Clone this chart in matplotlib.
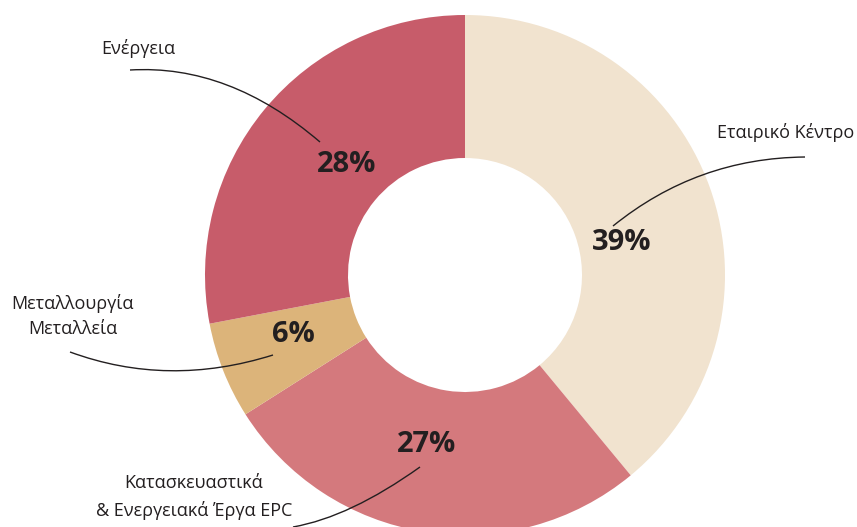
import matplotlib
matplotlib.use("Agg")
import matplotlib.pyplot as plt
from matplotlib.path import Path
from matplotlib.patches import PathPatch

# ---- data ----
categories = ["Εταιρικό Κέντρο", "Κατασκευαστικά\n& Ενεργειακά Έργα EPC",
              "Μεταλλουργία\nΜεταλλεία", "Ενέργεια"]
values = [39, 27, 6, 28]
colors = ["#F1E3CF", "#D4797D", "#DCB47A", "#C75C6A"]

W, H = 857, 527
plt.rcParams['font.family'] = ['Open Sans', 'DejaVu Sans']
fig = plt.figure(figsize=(W / 100, H / 100), dpi=100)
ax = fig.add_axes([0, 0, 1, 1])

def Y(y):
    return H - y

cx, cy, R, r_in = 465, 275, 260, 117
ax.pie(values, colors=colors, startangle=90, counterclock=False,
       center=(cx, Y(cy)), radius=R,
       wedgeprops=dict(width=R - r_in, linewidth=0))
ax.set_xlim(0, W)
ax.set_ylim(0, H)
ax.set_aspect('equal', adjustable='box')
ax.axis('off')

txt = "#231F20"
# percentage label positions (pixels)
pct_pos = [(622, 243), (427, 445), (293, 335), (347, 165)]
for v, (x, y) in zip(values, pct_pos):
    ax.text(x, Y(y), f"{v}%", ha='center', va='center', fontsize=21,
            fontweight='bold', color=txt)

# category labels
cat_pos = [(786, 133), (194, 497), (73, 316), (138, 48)]
for c, (x, y) in zip(categories, cat_pos):
    ax.text(x, Y(y), c, ha='center', va='center', fontsize=13, color=txt,
            linespacing=1.55)

# leader curves (quadratic bezier)
leaders = [
    [(805, 157), (697, 158), (613, 226)],
    [(293, 527), (350, 517), (420, 467)],
    [(70, 352), (168, 388), (273, 355)],
    [(130, 70), (229, 64), (320, 142)],
]
for pts in leaders:
    verts = [(x, Y(y)) for x, y in pts]
    p = Path(verts, [Path.MOVETO, Path.CURVE3, Path.CURVE3])
    ax.add_patch(PathPatch(p, fill=False, edgecolor=txt, linewidth=1.0))

fig.savefig("out.png", dpi=100)
